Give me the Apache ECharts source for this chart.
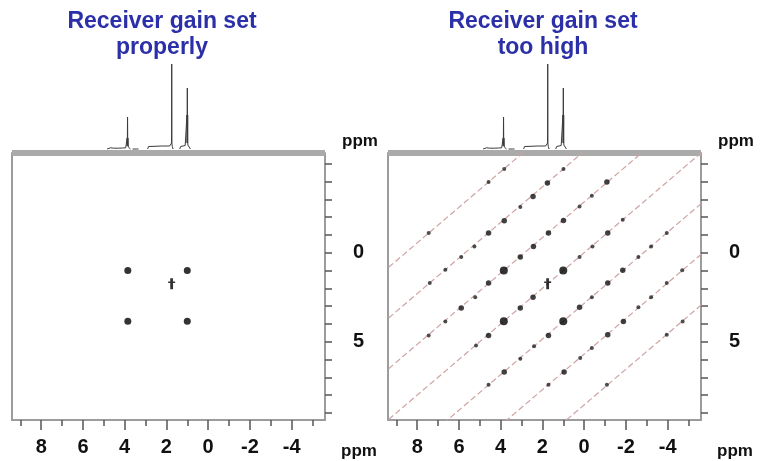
<!DOCTYPE html>
<html>
<head>
<meta charset="utf-8">
<script src="https://cdn.jsdelivr.net/npm/echarts@6/dist/echarts.min.js"></script>
<style>
html,body{margin:0;padding:0;background:#fff;}
#chart{width:763px;height:461px;}
</style>
</head>
<body>
<div id="chart"></div>
<script>
// ---- data (ppm) ----
const axisMin = -5.6, axisMax = 9.4;
const xMajorTicks = [-4, -2, 0, 2, 4, 6, 8];
const xMinorTicks = [-5, -4, -3, -2, -1, 0, 1, 2, 3, 4, 5, 6, 7, 8, 9];
const yTicks = [-5, -4, -3, -2, -1, 0, 1, 2, 3, 4, 5, 6, 7, 8, 9];
const yLabels = [0, 5];
const panelTitles = [["Receiver gain set", "properly"], ["Receiver gain set", "too high"]];

// 2D peaks [F2 ppm, F1 ppm]
const mainPeaks = [[3.85, 1.0], [1.0, 1.0], [3.85, 3.85], [1.0, 3.85]];
const crossPeak = [[1.75, 1.75]];

// artifacts (receiver overflow), right panel only
const artifactsMedium = [
  [3.83, -1.80], [4.58, -1.11], [2.45, -3.16], [2.43, -0.35], [3.06, 0.24], [4.58, 1.70],
  [0.99, -1.81], [1.71, -1.11], [-1.13, -1.11], [1.76, -3.92], [-1.09, -3.97],
  [-1.85, 0.99], [-1.13, 1.70], [5.89, 3.11], [3.06, 3.11], [4.58, 4.65], [2.45, 2.51],
  [3.83, 6.70], [0.22, 3.07], [-1.88, 3.86], [-1.13, 4.61], [1.71, 4.65], [0.96, 6.70]
];
const artifactsWeak = [
  [3.83, -4.70], [4.58, -3.97], [7.45, -1.11],
  [0.99, -4.70], [3.06, -2.57], [5.26, -0.35], [5.89, 0.24], [6.65, 0.96], [7.40, 1.70],
  [-0.37, -3.20], [0.22, -2.60], [5.22, 2.51], [6.65, 3.86], [7.45, 4.65],
  [-1.85, -1.85], [-0.40, -0.35], [0.22, 0.24], [5.18, 5.22],
  [-3.96, -1.11], [-3.21, -0.35], [-2.60, 0.24], [-0.37, 2.51], [2.40, 5.26], [3.06, 5.96], [4.58, 7.42],
  [-4.70, 0.99], [-3.96, 1.70], [-3.21, 2.51], [-2.60, 3.07], [-0.37, 5.35], [0.19, 5.92], [1.71, 7.42],
  [-4.72, 3.86], [-3.96, 4.61], [-1.09, 7.42]
];
// diagonal artifact ridges: F1 = F2 + offset
const ridgeOffsets = [-8.55, -5.7, -2.85, 0, 2.85, 5.7, 8.55];

// 1D projection (ppm, intensity); null breaks the trace
const projection = [
  [4.84, 0], [4.79, 1.5], [4.75, 0], [4.68, 1.2], [4.6, 0], [4.52, 0.8], [4.3, 0.8], [4.1, 1], [3.95, 1.2],
  [3.9, 2.5], [3.882, 11], [3.874, 3], [3.862, 32], [3.852, 3], [3.845, 11], [3.83, 2], [3.78, 0.6], [3.72, 0],
  [3.66, null],
  [3.62, 0], [3.58, 1.2], [3.54, 0], [3.44, 0], [3.39, 1.2], [3.34, 0],
  [3.1, null],
  [2.9, 0], [2.86, 2.5], [2.8, 3], [2.2, 3], [1.85, 3], [1.78, 3.5], [1.752, 6], [1.745, 85], [1.738, 6], [1.72, 2.5], [1.68, 0],
  [1.5, null],
  [1.36, 0], [1.32, 2.5], [1.25, 3.5], [1.1, 3.5], [1.025, 4], [1.017, 34], [1.008, 6], [0.998, 61], [0.99, 6], [0.981, 34], [0.973, 4], [0.92, 3.5], [0.88, 2.5], [0.85, 0]
];

// ---- layout ----
const panels = [{ left: 12 }, { left: 388 }];
const plotW = 313, plotTop = 153, plotH = 267;
const projTop = 41, projH = 108;

const boxGray = '#9c9c9c';
const tickCol = '#555';
const labelFont = { fontFamily: 'Liberation Sans, Arial, sans-serif', fontWeight: 'bold', color: '#111' };
const titleBlue = '#2b2fa8';

const grid = [], xAxis = [], yAxis = [], series = [], graphic = [];

panels.forEach(p => grid.push({ left: p.left, top: plotTop, width: plotW, height: plotH }));
panels.forEach(p => grid.push({ left: p.left, top: projTop, width: plotW, height: projH }));

panels.forEach((p, i) => {
  xAxis.push({
    gridIndex: i, type: 'value', min: axisMin, max: axisMax, inverse: true, position: 'bottom',
    axisLine: { show: true, onZero: false, lineStyle: { color: boxGray, width: 2 } },
    axisTick: { show: true, customValues: xMinorTicks, length: 6, lineStyle: { color: tickCol, width: 1.5 } },
    axisLabel: { show: false }, splitLine: { show: false }
  });
  xAxis.push({
    gridIndex: i, type: 'value', min: axisMin, max: axisMax, inverse: true, position: 'bottom',
    axisLine: { show: false, onZero: false },
    axisTick: { show: true, customValues: xMajorTicks, length: 10, lineStyle: { color: tickCol, width: 1.5 } },
    axisLabel: { show: true, customValues: xMajorTicks, fontSize: 20, margin: 17, ...labelFont },
    splitLine: { show: false }
  });
  xAxis.push({
    gridIndex: i, type: 'value', min: axisMin, max: axisMax, inverse: true, position: 'top',
    axisLine: { show: true, onZero: false, lineStyle: { color: '#aaaaaa', width: 6, cap: 'butt' } },
    axisTick: { show: false }, axisLabel: { show: false }, splitLine: { show: false }
  });
});
panels.forEach((p, i) => {
  xAxis.push({ gridIndex: 2 + i, type: 'value', min: axisMin, max: axisMax, inverse: true, show: false });
});

panels.forEach((p, i) => {
  yAxis.push({
    gridIndex: i, type: 'value', min: axisMin, max: axisMax, inverse: true, position: 'right',
    axisLine: { show: true, onZero: false, lineStyle: { color: boxGray, width: 2 } },
    axisTick: { show: true, customValues: yTicks, length: 7, lineStyle: { color: tickCol, width: 1.5 } },
    axisLabel: { show: true, customValues: yLabels, fontSize: 20, margin: 28, ...labelFont },
    splitLine: { show: false }
  });
  yAxis.push({
    gridIndex: i, type: 'value', min: axisMin, max: axisMax, inverse: true, position: 'left',
    axisLine: { show: true, onZero: false, lineStyle: { color: boxGray, width: 2 } },
    axisTick: { show: false }, axisLabel: { show: false }, splitLine: { show: false }
  });
});
panels.forEach((p, i) => {
  yAxis.push({ gridIndex: 2 + i, type: 'value', min: 0, max: projH, show: false });
});

// thick vertical stroke with a thin crossbar
const crossSymbol = 'path://M3,0 L7,0 L7,4 L10,4 L10,6 L7,6 L7,14 L3,14 L3,6 L0,6 L0,4 L3,4 Z';

ridgeOffsets.forEach(c => {
  series.push({
    type: 'line', xAxisIndex: 3, yAxisIndex: 2, symbol: 'none', silent: true, clip: true, z: 1,
    lineStyle: { color: '#cfa3a3', width: 1.2, type: [6, 3] },
    data: [[axisMin - 1, axisMin - 1 + c], [axisMax + 1, axisMax + 1 + c]]
  });
});

[{ xi: 0, yi: 0, size: 7 }, { xi: 3, yi: 2, size: 8 }].forEach(cfg => {
  series.push({
    type: 'scatter', xAxisIndex: cfg.xi, yAxisIndex: cfg.yi, symbol: 'circle', symbolSize: cfg.size,
    itemStyle: { color: '#000' }, data: mainPeaks, z: 5
  });
  series.push({
    type: 'scatter', xAxisIndex: cfg.xi, yAxisIndex: cfg.yi, symbol: crossSymbol, symbolSize: [7, 11],
    itemStyle: { color: '#000' }, data: crossPeak, z: 5
  });
});
series.push({
  type: 'scatter', xAxisIndex: 3, yAxisIndex: 2, symbol: 'circle', symbolSize: 5.5,
  itemStyle: { color: '#111' }, data: artifactsMedium, z: 4
});
series.push({
  type: 'scatter', xAxisIndex: 3, yAxisIndex: 2, symbol: 'circle', symbolSize: 4,
  itemStyle: { color: '#222' }, data: artifactsWeak, z: 4
});

[6, 7].forEach((xi, k) => {
  series.push({
    type: 'line', xAxisIndex: xi, yAxisIndex: 4 + k, symbol: 'none', silent: true,
    connectNulls: false, clip: false,
    lineStyle: { color: '#3a3a3a', width: 1 }, data: projection, z: 3
  });
});

const titleCenters = [162, 543];
titleCenters.forEach((cx, i) => {
  graphic.push({ type: 'text', x: cx, y: 22, style: { text: panelTitles[i][0], textAlign: 'center', textVerticalAlign: 'middle', fill: titleBlue, font: 'bold 23px "Liberation Sans", Arial, sans-serif' } });
  graphic.push({ type: 'text', x: cx, y: 48, style: { text: panelTitles[i][1], textAlign: 'center', textVerticalAlign: 'middle', fill: titleBlue, font: 'bold 23px "Liberation Sans", Arial, sans-serif' } });
});
[[360, 141], [736, 141], [359, 451], [735, 451]].forEach(pos => {
  graphic.push({ type: 'text', x: pos[0], y: pos[1], style: { text: 'ppm', textAlign: 'center', textVerticalAlign: 'middle', fill: '#111', font: 'bold 17px "Liberation Sans", Arial, sans-serif' } });
});

const chart = echarts.init(document.getElementById('chart'), null, { renderer: 'canvas' });
chart.setOption({ animation: false, backgroundColor: '#fff', grid, xAxis, yAxis, series, graphic });
</script>
</body>
</html>
